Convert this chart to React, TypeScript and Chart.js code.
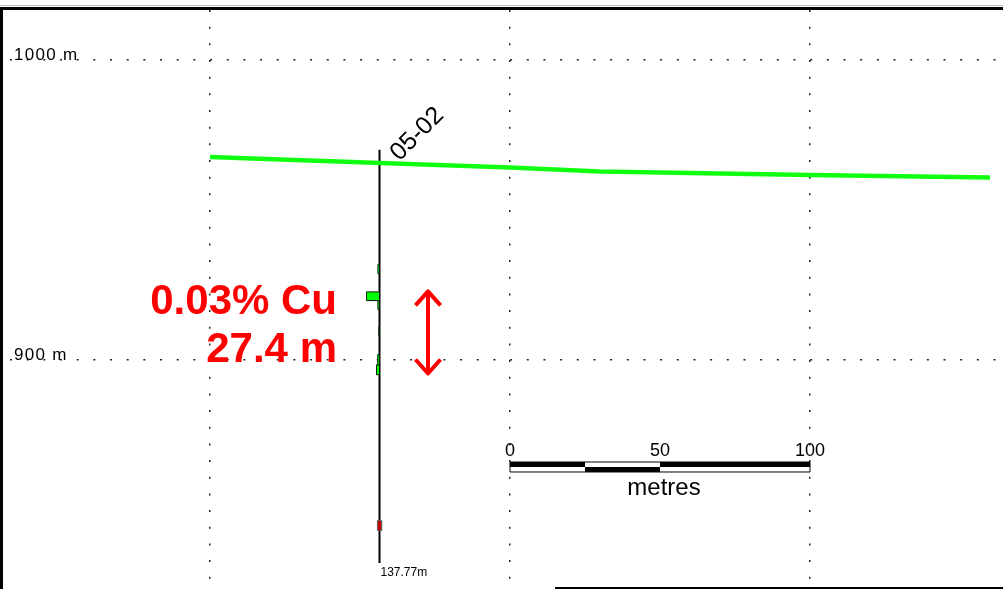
import React, { useEffect, useRef } from 'react';
import { Chart, registerables } from 'chart.js';

Chart.register(...registerables);

const WIDTH = 1003;
const HEIGHT = 589;

// Section window: distance along section (m) and elevation (m)
const X_MIN = -70;
const X_MAX = 264.33;
const Y_MIN = 823.67;
const Y_MAX = 1020;
const X_GRID = [0, 100, 200];
const Y_GRID = [900, 1000];

// Topographic surface
const TOPO_X = [0, 56.7, 100, 130, 200, 260];
const TOPO_Z = [967.7, 965.7, 964.2, 962.8, 961.7, 960.8];

// Drill hole
const HOLE_NAME = '05-02';
const HOLE_X = 56.5;
const HOLE_COLLAR_Z = 970.1;
const HOLE_LENGTH = 137.77;

// Cu assays along the hole (downhole depth, m) and grade (% Cu)
const ASSAY_FROM = [38.3, 47.4, 50.3, 59.0, 68.3, 71.7];
const ASSAY_TO = [41.3, 50.3, 53.3, 62.0, 71.7, 75.0];
const ASSAY_CU = [0.016, 0.13, 0.016, 0.006, 0.018, 0.03];
const CU_BAR_SCALE = 33.3; // section metres per % Cu

// Sample marker intervals (downhole depth, m)
const MARK_FROM = [123.6];
const MARK_TO = [126.9];
const MARK_WIDTH = 1.4;

// Reported intercept
const INTERCEPT_FROM = 47.2;
const INTERCEPT_LENGTH = 27.4;
const INTERCEPT_GRADE = 0.03;
const INTERCEPT_ARROW_X = 72.67;
const INTERCEPT_LABEL_X = 42.33;
const INTERCEPT_LABEL_Z = [915.33, 899.33];

// Scale bar
const SCALE_BAR_X = 100;
const SCALE_BAR_BREAKS = [0, 25, 50, 100];
const SCALE_BAR_LABELS = [0, 50, 100];
const SCALE_BAR_TOP = 866;
const SCALE_BAR_BOTTOM = 862.67;
const SCALE_BAR_UNIT = 'metres';

const FONT = '"Liberation Sans", Arial, Helvetica, sans-serif';

const depthToZ = (d: number) => HOLE_COLLAR_Z - d;

const rect = (x0: number, x1: number, z0: number, z1: number) => [
  { x: x0, y: z0 },
  { x: x1, y: z0 },
  { x: x1, y: z1 },
  { x: x0, y: z1 },
  { x: x0, y: z0 },
];

const sectionDecor = {
  id: 'sectionDecor',
  afterDatasetsDraw(chart: any) {
    const { ctx } = chart;
    const xs = chart.scales.x;
    const ys = chart.scales.y;
    const px = (v: number) => xs.getPixelForValue(v);
    const py = (v: number) => ys.getPixelForValue(v);

    ctx.save();
    ctx.fillStyle = '#000';
    ctx.textBaseline = 'alphabetic';

    // Elevation labels on the grid lines
    ctx.font = `17px ${FONT}`;
    ctx.textAlign = 'left';
    (ctx as any).letterSpacing = '1.3px';
    Y_GRID.forEach((v) => ctx.fillText(`${v} m`, 14, py(v)));
    (ctx as any).letterSpacing = '0px';

    // Hole name at the collar
    ctx.save();
    ctx.translate(px(HOLE_X) + 20, py(HOLE_COLLAR_Z) + 12);
    ctx.rotate(-Math.PI / 4);
    ctx.font = `25px ${FONT}`;
    ctx.fillText(HOLE_NAME, 0, 0);
    ctx.restore();

    // Hole depth at the toe
    ctx.font = `12px ${FONT}`;
    ctx.fillText(`${HOLE_LENGTH}m`, px(HOLE_X) + 1, py(HOLE_COLLAR_Z - HOLE_LENGTH) + 13);

    // Intercept labels
    ctx.fillStyle = '#ff0000';
    ctx.font = `bold 42px ${FONT}`;
    ctx.textAlign = 'right';
    ctx.fillText(`${INTERCEPT_GRADE.toFixed(2)}% Cu`, px(INTERCEPT_LABEL_X), py(INTERCEPT_LABEL_Z[0]));
    ctx.fillText(`${INTERCEPT_LENGTH} m`, px(INTERCEPT_LABEL_X), py(INTERCEPT_LABEL_Z[1]));

    // Intercept double arrow
    const ax = px(INTERCEPT_ARROW_X);
    const aTop = py(depthToZ(INTERCEPT_FROM));
    const aBot = py(depthToZ(INTERCEPT_FROM + INTERCEPT_LENGTH));
    ctx.strokeStyle = '#ff0000';
    ctx.lineWidth = 4;
    ctx.lineJoin = 'round';
    ctx.lineCap = 'butt';
    ctx.beginPath();
    ctx.moveTo(ax, aTop);
    ctx.lineTo(ax, aBot);
    ctx.moveTo(ax - 12.5, aTop + 14);
    ctx.lineTo(ax, aTop);
    ctx.lineTo(ax + 12.5, aTop + 14);
    ctx.moveTo(ax - 12.5, aBot - 14);
    ctx.lineTo(ax, aBot);
    ctx.lineTo(ax + 12.5, aBot - 14);
    ctx.stroke();

    // Scale bar
    const sTop = py(SCALE_BAR_TOP);
    const sBot = py(SCALE_BAR_BOTTOM);
    const sMid = (sTop + sBot) / 2;
    for (let i = 0; i < SCALE_BAR_BREAKS.length - 1; i++) {
      const a = px(SCALE_BAR_X + SCALE_BAR_BREAKS[i]);
      const b = px(SCALE_BAR_X + SCALE_BAR_BREAKS[i + 1]);
      ctx.fillStyle = i % 2 === 0 ? '#000' : '#fff';
      ctx.fillRect(a, sTop, b - a, sMid - sTop);
      ctx.fillStyle = i % 2 === 0 ? '#fff' : '#000';
      ctx.fillRect(a, sMid, b - a, sBot - sMid);
    }
    const sLeft = px(SCALE_BAR_X);
    const sRight = px(SCALE_BAR_X + SCALE_BAR_BREAKS[SCALE_BAR_BREAKS.length - 1]);
    ctx.strokeStyle = '#000';
    ctx.lineWidth = 1;
    ctx.strokeRect(sLeft, sTop, sRight - sLeft, sBot - sTop);
    ctx.fillStyle = '#000';
    ctx.textAlign = 'center';
    ctx.font = `18px ${FONT}`;
    SCALE_BAR_LABELS.forEach((v) => ctx.fillText(String(v), px(SCALE_BAR_X + v), sTop - 6));
    ctx.font = `24px ${FONT}`;
    ctx.fillText(SCALE_BAR_UNIT, (sLeft + sRight) / 2 + 4, sBot + 23);

    // Page frame
    ctx.fillStyle = '#bbb';
    ctx.fillRect(0, 5, WIDTH, 1);
    ctx.fillStyle = '#000';
    ctx.fillRect(0, 7, WIDTH, 3);
    ctx.fillRect(0, 7, 3, HEIGHT - 7);
    ctx.fillRect(555, HEIGHT - 2, WIDTH - 555, 2);
    ctx.restore();
  },
};

export default function App() {
  const canvasRef = useRef<HTMLCanvasElement | null>(null);

  useEffect(() => {
    const canvas = canvasRef.current;
    if (!canvas) return;

    const topo = TOPO_X.map((x, i) => ({ x, y: TOPO_Z[i] }));
    const hole = [
      { x: HOLE_X, y: HOLE_COLLAR_Z },
      { x: HOLE_X, y: HOLE_COLLAR_Z - HOLE_LENGTH },
    ];

    const assaySets = ASSAY_FROM.map((from, i) => ({
      data: rect(HOLE_X - ASSAY_CU[i] * CU_BAR_SCALE, HOLE_X, depthToZ(from), depthToZ(ASSAY_TO[i])),
      showLine: true,
      fill: 'shape',
      backgroundColor: '#00ff00',
      borderColor: '#061806',
      borderWidth: 1,
      pointRadius: 0,
      tension: 0,
      order: 1,
    }));

    const markSets = MARK_FROM.map((from, i) => ({
      data: rect(HOLE_X - MARK_WIDTH / 2, HOLE_X + MARK_WIDTH / 2, depthToZ(from), depthToZ(MARK_TO[i])),
      showLine: true,
      fill: 'shape',
      backgroundColor: '#c80000',
      borderColor: '#666',
      borderWidth: 1,
      pointRadius: 0,
      tension: 0,
      order: 1,
    }));

    const chart = new Chart(canvas, {
      type: 'scatter',
      data: {
        datasets: [
          {
            data: topo,
            showLine: true,
            borderColor: '#11ff11',
            borderWidth: 4.5,
            pointRadius: 0,
            tension: 0,
            order: 0,
          },
          {
            data: hole,
            showLine: true,
            borderColor: '#000',
            borderWidth: 2,
            pointRadius: 0,
            order: 2,
          },
          ...assaySets,
          ...markSets,
        ] as any,
      },
      options: {
        animation: false,
        responsive: false,
        devicePixelRatio: 1,
        layout: { padding: 0 },
        plugins: {
          legend: { display: false },
          tooltip: { enabled: false },
          title: { display: false },
        },
        scales: {
          x: {
            type: 'linear',
            min: X_MIN,
            max: X_MAX,
            afterBuildTicks: (scale: any) => {
              scale.ticks = X_GRID.map((value) => ({ value }));
            },
            ticks: { display: false },
            grid: { color: '#222', lineWidth: 1.5, drawTicks: false },
            border: { display: false, dash: [2, 14.67], dashOffset: 6.67 },
          },
          y: {
            type: 'linear',
            min: Y_MIN,
            max: Y_MAX,
            afterBuildTicks: (scale: any) => {
              scale.ticks = Y_GRID.map((value) => ({ value }));
            },
            ticks: { display: false },
            grid: { color: '#222', lineWidth: 1.5, drawTicks: false },
            border: { display: false, dash: [2, 14.67], dashOffset: 6.67 },
          },
        },
      },
      plugins: [sectionDecor],
    });

    return () => chart.destroy();
  }, []);

  return (
    <div style={{ position: 'fixed', left: 0, top: 0, width: WIDTH, height: HEIGHT, background: '#fff' }}>
      <canvas ref={canvasRef} width={WIDTH} height={HEIGHT} style={{ display: 'block' }} />
    </div>
  );
}
